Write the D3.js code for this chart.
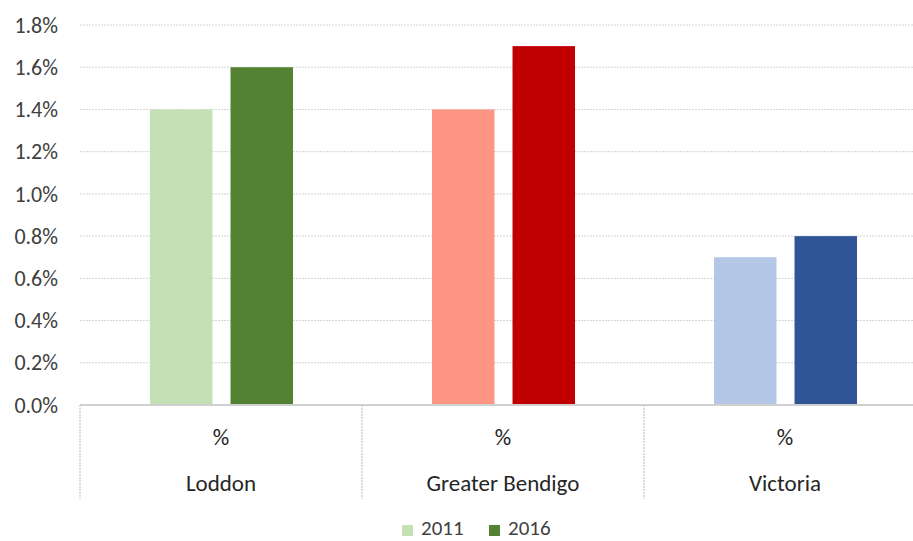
<!DOCTYPE html>
<html>
<head>
<meta charset="utf-8">
<script src="https://cdn.jsdelivr.net/npm/d3@7"></script>
<style>
  html, body { margin: 0; padding: 0; background: #fff; }
  svg { display: block; font-family: Calibri, Carlito, "Open Sans", "Liberation Sans", sans-serif; }
</style>
</head>
<body>
<svg id="chart" width="913" height="541"></svg>
<script>
// Share of population by region, census years 2011 and 2016
const regions = ["Loddon", "Greater Bendigo", "Victoria"];
const years = ["2011", "2016"];
const values2011 = [1.4, 1.4, 0.7];
const values2016 = [1.6, 1.7, 0.8];
const yTicks = [0, 0.2, 0.4, 0.6, 0.8, 1.0, 1.2, 1.4, 1.6, 1.8];
const unitLabel = "%";
const colors2011 = ["#c5e0b4", "#ff9683", "#b4c7e7"];
const colors2016 = ["#548235", "#c00000", "#2f5597"];

(function () {
  const svg = d3.select("#chart");
  const plotLeft = 80, plotRight = 926, plotTop = 25, baseline = 405;

  const x = d3.scaleBand().domain(regions).range([plotLeft, plotRight]).paddingInner(0).paddingOuter(0);
  const xs = d3.scaleBand().domain(years).range([70, 213]).paddingInner(0.224);
  const y = d3.scaleLinear().domain([0, 1.8]).range([baseline, plotTop]);

  // horizontal gridlines
  svg.append("g").selectAll("line")
    .data(yTicks.filter(d => d > 0))
    .join("line")
    .attr("x1", plotLeft).attr("x2", plotRight)
    .attr("y1", d => y(d)).attr("y2", d => y(d))
    .attr("stroke", "#d4d4d4").attr("stroke-width", 1)
    .attr("stroke-dasharray", "2,1");

  // y tick labels
  svg.append("g").selectAll("text")
    .data(yTicks)
    .join("text")
    .attr("x", 58).attr("y", d => y(d))
    .attr("dy", "0.35em")
    .attr("text-anchor", "end")
    .attr("font-size", 22)
    .attr("fill", "#404040")
    .text(d => d.toFixed(1) + "%");

  // bars
  const rows = regions.map((r, i) => ({ region: r, i, v: [values2011[i], values2016[i]] }));
  const grp = svg.append("g").selectAll("g")
    .data(rows)
    .join("g")
    .attr("transform", d => `translate(${x(d.region)},0)`);

  grp.selectAll("rect")
    .data(d => years.map((yr, k) => ({ yr, val: d.v[k], color: k === 0 ? colors2011[d.i] : colors2016[d.i] })))
    .join("rect")
    .attr("x", d => xs(d.yr))
    .attr("width", xs.bandwidth())
    .attr("y", d => y(d.val))
    .attr("height", d => baseline - y(d.val))
    .attr("fill", d => d.color);

  // category axis: baseline and group dividers
  svg.append("line")
    .attr("x1", plotLeft).attr("x2", plotRight)
    .attr("y1", baseline).attr("y2", baseline)
    .attr("stroke", "#d0d0d0").attr("stroke-width", 2);

  svg.append("g").selectAll("line")
    .data(regions)
    .join("line")
    .attr("x1", d => x(d)).attr("x2", d => x(d))
    .attr("y1", baseline).attr("y2", 499)
    .attr("stroke", "#d0d0d0").attr("stroke-width", 1.5)
    .attr("stroke-dasharray", "2,1");

  // two-level category labels
  const lab = svg.append("g").selectAll("g")
    .data(regions)
    .join("g")
    .attr("transform", d => `translate(${x(d) + x.bandwidth() / 2},0)`);
  lab.append("text")
    .attr("y", 437).attr("dy", "0.35em")
    .attr("text-anchor", "middle").attr("font-size", 23).attr("fill", "#262626")
    .text(unitLabel);
  lab.append("text")
    .attr("y", 483).attr("dy", "0.35em")
    .attr("text-anchor", "middle").attr("font-size", 23).attr("fill", "#262626")
    .text(d => d);

  // legend along the bottom edge
  const legend = svg.append("g");
  const legendItems = [
    { label: years[0], color: colors2011[0], x: 402 },
    { label: years[1], color: colors2016[0], x: 489 }
  ];
  legendItems.forEach(it => {
    legend.append("rect").attr("x", it.x).attr("y", 525).attr("width", 11).attr("height", 11).attr("fill", it.color);
    legend.append("text").attr("x", it.x + 19).attr("y", 535)
      .attr("font-size", 21).attr("fill", "#404040").text(it.label);
  });
})();
</script>
</body>
</html>
